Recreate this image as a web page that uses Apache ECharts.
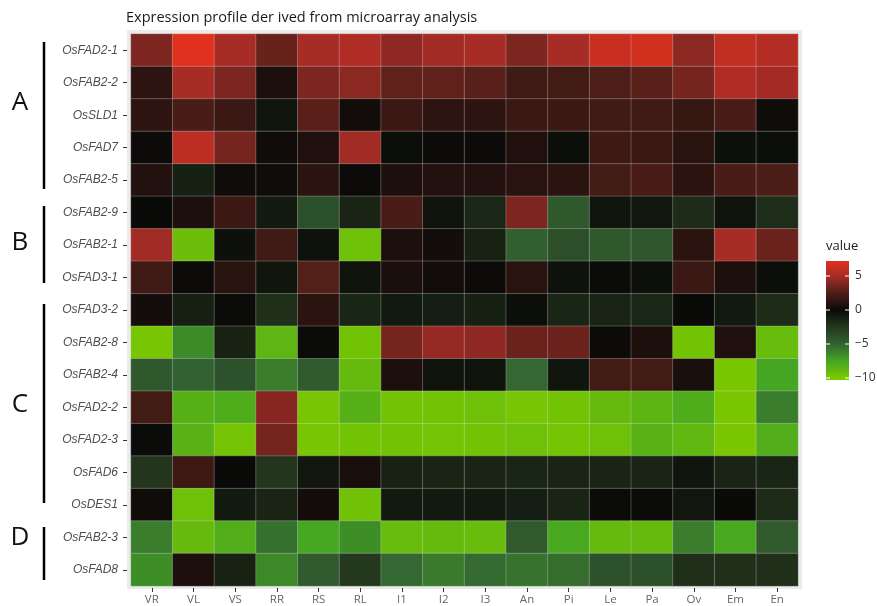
<!DOCTYPE html>
<html><head><meta charset="utf-8">
<script src="https://cdn.jsdelivr.net/npm/echarts@6/dist/echarts.min.js"></script>
<style>html,body{margin:0;padding:0;background:#fff}#c{width:877px;height:606px}</style>
</head><body><div id="c"></div>
<script>
const tissues = ['VR','VL','VS','RR','RS','RL','I1','I2','I3','An','Pi','Le','Pa','Ov','Em','En'];
const genes = ['OsFAD2-1','OsFAB2-2','OsSLD1','OsFAD7','OsFAB2-5','OsFAB2-9','OsFAB2-1','OsFAD3-1',
  'OsFAD3-2','OsFAB2-8','OsFAB2-4','OsFAD2-2','OsFAD2-3','OsFAD6','OsDES1','OsFAB2-3','OsFAD8'];

const rowFAD2_1 = [3.8,7.2,5.0,3.2,5.0,5.3,4.3,4.8,5.0,3.8,5.0,6.3,6.7,4.2,6.0,5.5];
const rowFAB2_2 = [1.3,5.0,3.8,0.7,3.8,4.2,3.0,3.0,2.8,2.0,2.1,2.5,2.8,3.6,5.3,4.9];
const rowSLD1   = [1.3,2.3,1.8,-0.6,2.8,0.3,1.8,1.3,1.3,1.8,1.8,2.0,2.0,1.6,2.3,0.2];
const rowFAD7   = [0.1,5.8,3.6,0.2,0.8,4.8,-0.2,0.1,0.1,0.8,-0.2,1.9,1.8,1.1,-0.3,-0.2];
const rowFAB2_5 = [0.9,-1.2,0.2,0.2,1.2,0.1,0.7,0.9,0.9,1.1,1.2,2.1,2.3,1.2,2.3,2.4];
const rowFAB2_9 = [0.0,0.7,1.8,-0.9,-3.9,-1.4,2.3,-0.5,-1.6,3.8,-4.4,-0.6,-0.7,-1.8,-0.5,-1.9];
const rowFAB2_1 = [4.8,-9.3,-0.3,2.0,-0.4,-9.4,0.7,0.4,-1.3,-4.8,-3.8,-4.4,-4.3,1.2,5.0,3.3];
const rowFAD3_1 = [2.0,0.1,1.1,-0.6,2.6,-0.5,0.6,0.3,0.1,1.1,-0.4,-0.1,-0.3,1.8,0.7,-0.2];
const rowFAD3_2 = [0.4,-1.2,-0.1,-2.0,1.2,-1.5,-0.8,-1.1,-1.2,-0.2,-1.5,-1.4,-1.6,0.0,-0.8,-1.8];
const rowFAB2_8 = [-9.8,-6.5,-1.3,-8.7,-0.1,-9.6,3.6,4.5,4.3,3.3,3.3,0.1,0.7,-9.6,0.8,-9.1];
const rowFAB2_4 = [-4.4,-5.0,-4.0,-6.0,-4.6,-9.0,0.7,-0.5,-0.5,-5.2,-0.6,2.1,2.1,0.5,-9.9,-7.5];
const rowFAD2_2 = [2.1,-8.3,-8.0,4.1,-9.8,-8.3,-9.6,-9.6,-9.4,-9.8,-9.6,-9.0,-8.6,-8.0,-9.9,-6.0];
const rowFAD2_3 = [-0.1,-8.4,-9.7,3.6,-9.8,-9.6,-9.6,-9.7,-9.6,-9.4,-9.7,-9.4,-8.4,-8.8,-9.9,-8.1];
const rowFAD6   = [-2.4,1.9,0.0,-2.4,-0.7,0.5,-1.3,-1.4,-1.4,-1.5,-1.4,-1.4,-1.4,-0.6,-1.4,-1.5];
const rowDES1   = [0.2,-9.4,-0.9,-1.4,0.4,-9.5,-0.8,-0.8,-0.8,-1.1,-1.4,-0.05,-0.1,-0.7,0.0,-1.8];
const rowFAB2_3 = [-6.0,-9.0,-8.1,-5.5,-7.6,-6.6,-9.1,-9.0,-9.1,-4.5,-7.7,-9.0,-9.0,-6.0,-7.7,-4.5];
const rowFAD8   = [-6.6,0.7,-1.3,-6.4,-4.6,-2.5,-5.2,-5.9,-5.3,-5.6,-5.4,-4.0,-3.9,-2.0,-2.0,-2.0];

const rows = [rowFAD2_1,rowFAB2_2,rowSLD1,rowFAD7,rowFAB2_5,rowFAB2_9,rowFAB2_1,rowFAD3_1,
  rowFAD3_2,rowFAB2_8,rowFAB2_4,rowFAD2_2,rowFAD2_3,rowFAD6,rowDES1,rowFAB2_3,rowFAD8];

const legendTicks = [5, 0, -5, -10];

// colour scale stops (value, colour)
const scaleVals = [-10,-7.5,-5,-2.5,0,2.5,5,7.5];
const scaleCols = ['#7CC800','#44A622','#336232','#24381E','#0A0A08','#4E1E18','#A82C26','#E6321C'];

const data = [];
rows.forEach((r, yi) => r.forEach((v, xi) => data.push([xi, yi, v])));

function hex2rgb(h){return [parseInt(h.substr(1,2),16),parseInt(h.substr(3,2),16),parseInt(h.substr(5,2),16)];}
function colorAt(v){
  if (v <= scaleVals[0]) return scaleCols[0];
  for (let i=1;i<scaleVals.length;i++){
    if (v <= scaleVals[i]){
      const t=(v-scaleVals[i-1])/(scaleVals[i]-scaleVals[i-1]);
      const a=hex2rgb(scaleCols[i-1]), b=hex2rgb(scaleCols[i]);
      return 'rgb('+a.map((c,k)=>Math.round(c+(b[k]-c)*t)).join(',')+')';
    }
  }
  return scaleCols[scaleCols.length-1];
}

// legend bar geometry
const barTopVal = 7.2, barBotVal = -10.3;
const barX = 826, barW = 23, pxPerUnit = 6.8, zeroY = 310;
const yOf = v => zeroY - v*pxPerUnit;
const stops = [];
stops.push({offset:0, color:colorAt(barTopVal)});
for (let i=scaleVals.length-1;i>=0;i--){
  const v=scaleVals[i];
  if (v<barTopVal && v>barBotVal) stops.push({offset:(barTopVal-v)/(barTopVal-barBotVal), color:scaleCols[i]});
}
stops.push({offset:1, color:colorAt(barBotVal)});

const chart = echarts.init(document.getElementById('c'), null, {renderer:'canvas'});
const graphics = [
  {type:'rect', z:-5, shape:{x:127,y:30,width:675,height:559}, style:{fill:'#EBEBEB'}},
  {type:'text', left:826, top:240, style:{text:'value', font:'13px "Open Sans"', fill:'#1A1A1A'}},
  {type:'rect', shape:{x:barX,y:yOf(barTopVal),width:barW,height:yOf(barBotVal)-yOf(barTopVal)},
    style:{fill:new echarts.graphic.LinearGradient(0,0,0,1,stops)}}
];
legendTicks.forEach(t=>{
  const y=yOf(t);
  graphics.push({type:'line', shape:{x1:barX,y1:y,x2:barX+4,y2:y}, style:{stroke:'#fff',lineWidth:1}});
  graphics.push({type:'line', shape:{x1:barX+barW-4,y1:y,x2:barX+barW,y2:y}, style:{stroke:'#fff',lineWidth:1}});
  graphics.push({type:'text', x:855, y:y, style:{text:(t<0?'\u2212'+(-t):String(t)), font:'12px "Open Sans"', fill:'#333', textVerticalAlign:'middle', verticalAlign:'middle'}});
});
// group brackets
const groups = [
  {label:'A', y1:42, y2:189, ly:103},
  {label:'B', y1:206, y2:283, ly:243},
  {label:'C', y1:304, y2:503, ly:405},
  {label:'D', y1:527, y2:580, ly:538}
];
groups.forEach(g=>{
  graphics.push({type:'line', shape:{x1:44,y1:g.y1,x2:44,y2:g.y2}, style:{stroke:'#000',lineWidth:2.5}});
  graphics.push({type:'text', x:20, y:g.ly, style:{text:g.label, font:'26px "Open Sans"', fill:'#111', align:'center', verticalAlign:'middle', textAlign:'center', textVerticalAlign:'middle'}});
});

chart.setOption({
  animation:false,
  backgroundColor:'#fff',
  title:{text:'Expression profile der ived from microarray analysis', left:121, top:5,
    textStyle:{fontFamily:'Open Sans', fontSize:14.5, fontWeight:'normal', color:'#1A1A1A'}},
  grid:{left:131, right:79, top:34, bottom:19},
  xAxis:{type:'category', data:tissues, offset:2,
    axisLine:{show:false}, axisTick:{show:true, alignWithLabel:true, length:4, lineStyle:{color:'#333'}},
    axisLabel:{fontFamily:'Open Sans', fontSize:11.5, color:'#666', margin:6},
    splitLine:{show:false}},
  yAxis:{type:'category', data:genes, inverse:true, offset:4,
    axisLine:{show:false}, axisTick:{show:true, alignWithLabel:true, length:4, lineStyle:{color:'#333'}},
    axisLabel:{fontFamily:'Liberation Sans', fontStyle:'italic', fontSize:12, color:'#4D4D4D', margin:9},
    splitLine:{show:false}},
  visualMap:{show:false, type:'continuous', min:-10, max:7.5, dimension:2, inRange:{color:scaleCols}},
  graphic:{elements:graphics},
  series:[{type:'heatmap', data:data, z:2,
    itemStyle:{borderColor:'rgba(235,235,235,0.45)', borderWidth:0.6}}]
});
</script>
</body></html>
